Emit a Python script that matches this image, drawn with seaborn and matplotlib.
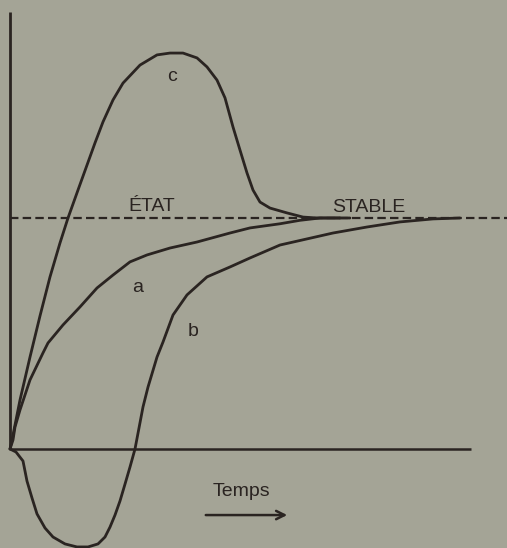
import matplotlib
matplotlib.use("Agg")
import matplotlib.pyplot as plt
import seaborn as sns
import pandas as pd

# ── Data (time in arbitrary units, response normalised to steady state = 1) ──

t_a = [0, 0.03, 0.05, 0.10, 0.20, 0.33, 0.38, 0.53, 0.70, 0.87, 1.03, 1.20,
       1.37, 1.60, 1.87, 2.20, 2.40, 2.70, 2.90, 3.10, 3.40]
y_a = [0, 0.039, 0.095, 0.169, 0.299, 0.416, 0.459, 0.537, 0.615, 0.697, 0.753,
       0.810, 0.840, 0.870, 0.896, 0.935, 0.957, 0.975, 0.990, 1.0, 1.0]

t_b = [0, 0.06, 0.13, 0.17, 0.22, 0.27, 0.35, 0.43, 0.55, 0.67, 0.78, 0.88, 0.95,
       1.00, 1.05, 1.10, 1.15, 1.20, 1.25, 1.29, 1.33, 1.38, 1.47, 1.53, 1.63,
       1.77, 1.97, 2.20, 2.40, 2.70, 3.23, 3.57, 3.90, 4.23, 4.50]
y_b = [0, -0.013, -0.052, -0.139, -0.212, -0.281, -0.342, -0.381, -0.411, -0.424,
       -0.424, -0.411, -0.381, -0.338, -0.286, -0.225, -0.152, -0.078, 0, 0.091,
       0.182, 0.268, 0.398, 0.463, 0.580, 0.667, 0.745, 0.788, 0.827, 0.883,
       0.935, 0.961, 0.983, 0.996, 1.0]

t_c = [0, 0.02, 0.05, 0.10, 0.20, 0.30, 0.40, 0.50, 0.58, 0.68, 0.77, 0.85, 0.93,
       1.03, 1.13, 1.30, 1.47, 1.60, 1.73, 1.87, 1.97, 2.07, 2.15, 2.23, 2.30,
       2.37, 2.43, 2.50, 2.60, 2.77, 2.93, 3.07, 3.30]
y_c = [0, 0.039, 0.104, 0.212, 0.398, 0.576, 0.745, 0.892, 1.0, 1.121, 1.229,
       1.325, 1.416, 1.511, 1.584, 1.662, 1.706, 1.714, 1.714, 1.693, 1.654,
       1.597, 1.520, 1.394, 1.294, 1.195, 1.121, 1.069, 1.043, 1.022, 1.004,
       1.0, 1.0]

steady_state = 1.0

df = pd.concat([
    pd.DataFrame({"temps": t_a, "reponse": y_a, "courbe": "a"}),
    pd.DataFrame({"temps": t_b, "reponse": y_b, "courbe": "b"}),
    pd.DataFrame({"temps": t_c, "reponse": y_c, "courbe": "c"}),
])

# ── Plot ─────────────────────────────────────────────────────────────────────

bg = "#a4a496"
ink = "#2a2421"

sns.set_style("white")
plt.rcParams["font.family"] = ["Liberation Sans", "DejaVu Sans"]

fig = plt.figure(figsize=(5.07, 5.48), dpi=100, facecolor=bg)
ax = fig.add_axes([0, 0, 1, 1])
ax.set_facecolor(bg)

sns.lineplot(data=df, x="temps", y="reponse", units="courbe", estimator=None,
             sort=False, color=ink, linewidth=2.0, solid_joinstyle="round",
             ax=ax)

# axes drawn by hand, like the original figure
ax.plot([0, 0], [0, 1.892], color=ink, linewidth=2.0, solid_capstyle="butt")
ax.plot([0, 4.61], [0, 0], color=ink, linewidth=1.8, solid_capstyle="butt")
ax.plot([0, 5.0], [steady_state, steady_state], color=ink, linewidth=1.6,
        dashes=(3.8, 1.9))

txt = dict(color=ink, fontsize=14, ha="center", va="baseline")
ax.text(1.415, 1.030, "ÉTAT", **txt)
ax.text(3.59, 1.026, "STABLE", **txt)
ax.text(1.62, 1.593, "c", **txt)
ax.text(1.28, 0.680, "a", **txt)
ax.text(1.83, 0.489, "b", **txt)
ax.text(2.31, -0.203, "Temps", **txt)
ax.annotate("", xy=(2.80, -0.286), xytext=(1.93, -0.286),
            arrowprops=dict(arrowstyle="->", color=ink, lw=1.8,
                            mutation_scale=15))

ax.set_xlim(-0.10, 4.97)
ax.set_ylim(-0.4286, 1.9437)
ax.axis("off")

fig.savefig("out.png", dpi=100, facecolor=bg)
